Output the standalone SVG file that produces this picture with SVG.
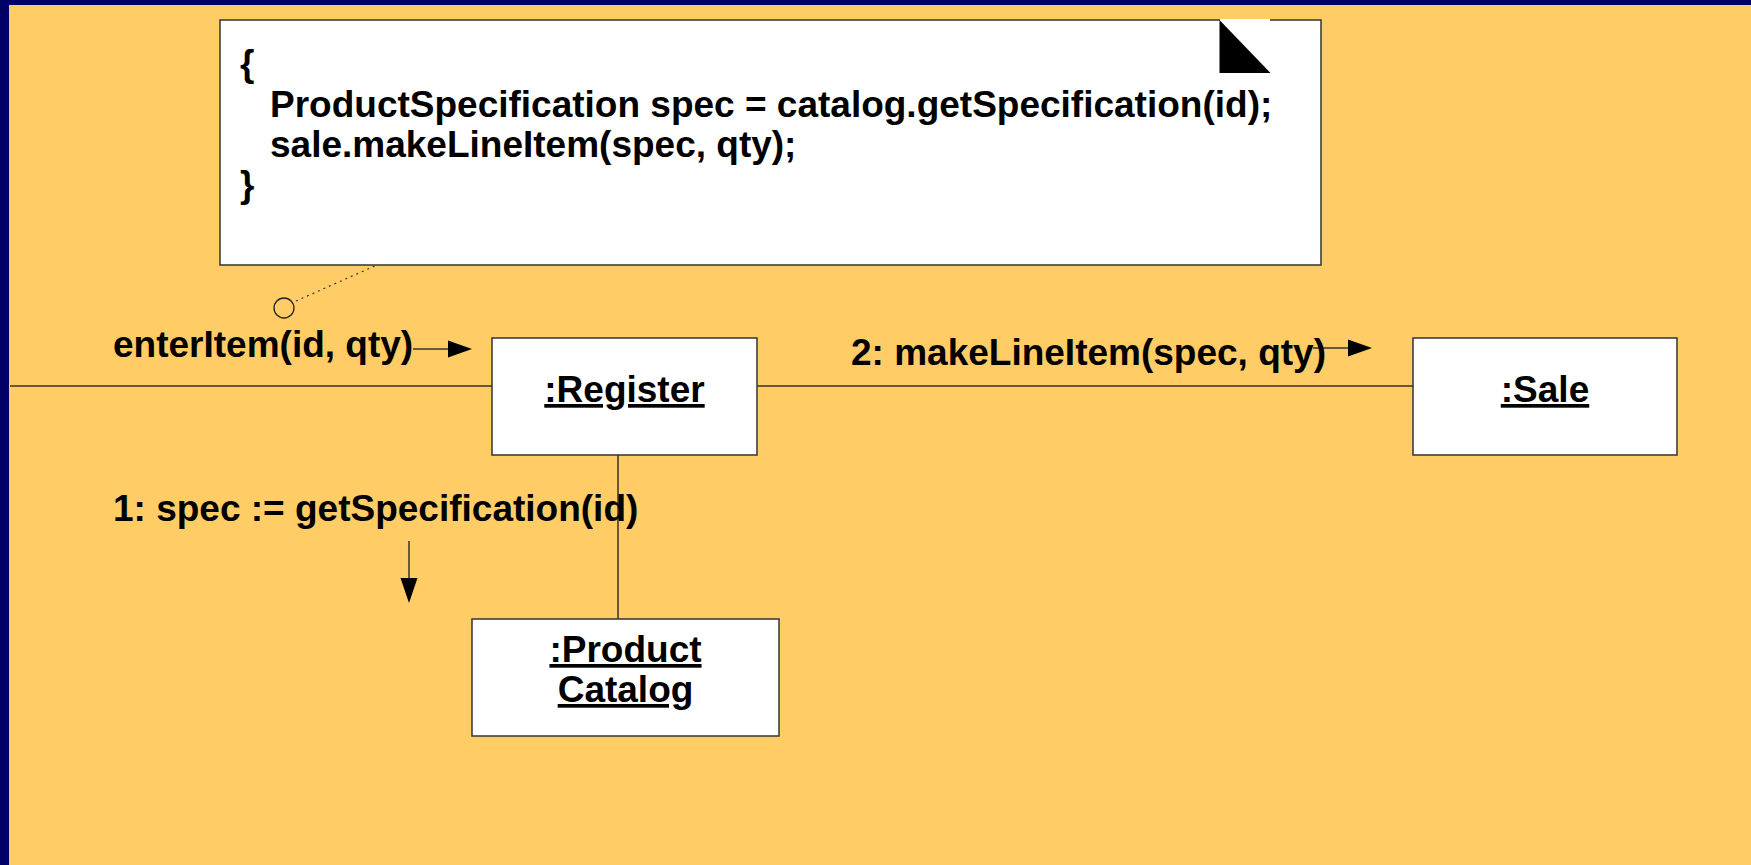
<svg xmlns="http://www.w3.org/2000/svg" width="1751" height="865" viewBox="0 0 1751 865">
<style>
.t{font-family:"Liberation Sans",Arial,Helvetica,sans-serif;font-weight:bold;font-size:37px;fill:#000}
.u{text-decoration:underline}
.box{fill:#fff;stroke:#333;stroke-width:1.5}
.ln{stroke:#333;stroke-width:1.5;fill:none}
.ah{fill:#000}
</style>
<rect x="0" y="0" width="1751" height="865" fill="#000066"/>
<rect x="9" y="5" width="1742" height="860" fill="#FFCC66"/>
<g id="connectors">
<line class="ln" x1="10" y1="386" x2="492" y2="386"/>
<line class="ln" x1="757" y1="386" x2="1413" y2="386"/>
<line class="ln" x1="618" y1="455" x2="618" y2="619"/>
<line x1="296" y1="301" x2="377" y2="265" stroke="#333" stroke-width="1.2" stroke-dasharray="2,4"/>
<circle cx="284" cy="308" r="10" fill="none" stroke="#222" stroke-width="1.3"/>
<line class="ln" x1="413" y1="349" x2="449" y2="349"/>
<polygon class="ah" points="448,340.5 472,349 448,357.5"/>
<line class="ln" x1="1313" y1="348" x2="1349" y2="348"/>
<polygon class="ah" points="1348,339.5 1372,348 1348,356.5"/>
<line class="ln" x1="409" y1="541" x2="409" y2="579"/>
<polygon class="ah" points="400.5,578 409,603 417.5,578"/>
<text class="t" x="113" y="357">enterItem(id, qty)</text>
<text class="t" x="851" y="365">2: makeLineItem(spec, qty)</text>
<text class="t" x="113" y="521">1: spec := getSpecification(id)</text>
</g>
<g id="note">
<rect class="box" x="220" y="20" width="1101" height="245"/>
<line x1="1220" y1="20" x2="1270" y2="20" stroke="#fff" stroke-width="2"/>
<polygon points="1219.5,20 1270.5,73 1219.5,73" fill="#000"/>
<text class="t" x="240" y="76">{</text>
<text class="t" x="270" y="117">ProductSpecification spec = catalog.getSpecification(id);</text>
<text class="t" x="270" y="157">sale.makeLineItem(spec, qty);</text>
<text class="t" x="240" y="197">}</text>
</g>
<g id="register">
<rect class="box" x="492" y="338" width="265" height="117"/>
<text class="t u" x="624.5" y="402" text-anchor="middle">:Register</text>
</g>
<g id="sale">
<rect class="box" x="1413" y="338" width="264" height="117"/>
<text class="t u" x="1545" y="402" text-anchor="middle">:Sale</text>
</g>
<g id="productcatalog">
<rect class="box" x="472" y="619" width="307" height="117"/>
<text class="t u" x="625.5" y="662" text-anchor="middle">:Product</text>
<text class="t u" x="625.5" y="702" text-anchor="middle">Catalog</text>
</g>
</svg>
